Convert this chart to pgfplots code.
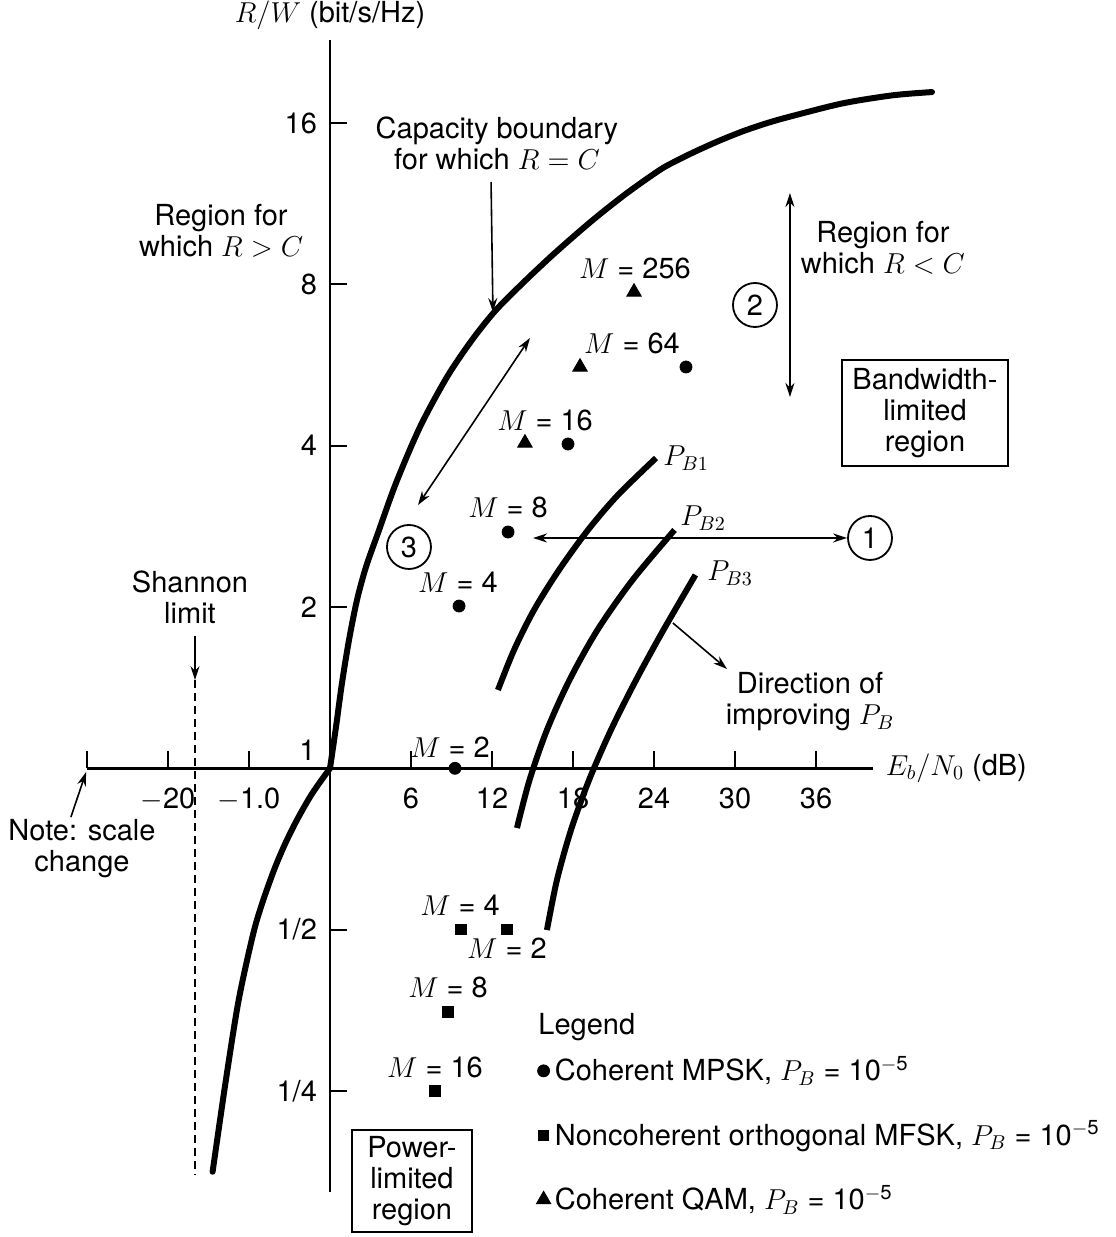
\documentclass[border=0pt]{standalone}
\usepackage{fontspec}
\setmainfont{TeX Gyre Heros}
\usepackage{pgfplots}
\pgfplotsset{compat=1.18}
\usetikzlibrary{arrows.meta}
\begin{document}
\fontsize{14.5}{15.5}\selectfont
\begin{tikzpicture}[>={Stealth[length=7pt,width=4.5pt]}]
\begin{axis}[
  scale only axis, width=392.85pt, height=576pt,
  xmin=-18, xmax=40.2, ymin=0.16198, ymax=22.85,
  ymode=log, log basis y=2,
  axis lines=middle, axis line style={-, line width=1.2pt},
  clip=false,
  tick align=inside, major tick length=8.5pt, tick style={line width=1pt, black},
  xtick={-18,-12,-6,6,12,18,24,30,36},
  xticklabels={,$-$20,$-$1.0,6,12,18,24,30,36},
  ytick={0.25,0.5,2,4,8,16},
  yticklabels={1/4,1/2,2,4,8,16},
  minor tick num=0,
  xticklabel style={yshift=-5pt},
  yticklabel style={xshift=-1.5pt},
  xlabel={$E_b/N_0$ (dB)}, ylabel={$R/W$ (bit/s/Hz)},
  xlabel style={at={(current axis.right of origin)}, anchor=west, xshift=1.5pt},
  ylabel style={at={(current axis.above origin)}, anchor=south},
  legend style={draw=none, fill=none, at={(axis cs:14.81,0.3007)}, anchor=north west,
    row sep=13.75pt, nodes={inner sep=2pt}, font=\fontsize{14.5}{15.5}\selectfont},
  legend cell align=left,
  legend image code/.code={\draw[mark repeat=2,mark phase=2] plot coordinates {(0cm,0cm)(0.12cm,0cm)(0.24cm,0cm)};},
]
% capacity boundary R = C (lower branch, R/W < 1)
\addplot[line width=3pt, line cap=round, smooth, forget plot] coordinates {
(-8.696,0.1767) (-7.711,0.2620) (-6.763,0.3696) (-5.674,0.4928) (-4.941,0.5679)
(-4.089,0.6515) (-3.296,0.7255) (-2.370,0.8077) (-1.296,0.8993) (0,1)};
% capacity boundary R = C (upper branch, R/W > 1)
\addplot[line width=3pt, line cap=round, smooth, forget plot] coordinates {
(0,1) (0.444,1.194) (0.889,1.443) (1.407,1.735) (2.0,2.061) (2.667,2.375) (3.556,2.748)
(4.889,3.406) (6.667,4.334) (8.667,5.371) (10.52,6.298) (12.30,7.164) (14.52,8.150)
(16.74,9.191) (19.48,10.55) (22.0,11.84) (24.44,13.08) (25.63,13.59) (26.89,14.09)
(28.74,14.79) (30.59,15.44) (32.44,16.01) (34.30,16.50) (38.0,17.41) (41.70,18.02) (44.59,18.27)};
% P_B curves
\addplot[line width=3pt, smooth, forget plot] coordinates {
(12.44,1.400) (13.63,1.662) (15.11,1.974) (16.96,2.344) (19.11,2.784) (21.33,3.236) (24.15,3.793)};
\addplot[line width=3pt, smooth, forget plot] coordinates {
(13.85,0.7738) (14.78,0.9510) (16.07,1.1789) (17.74,1.4613) (19.81,1.8116) (22.41,2.2457) (25.52,2.784)};
\addplot[line width=3pt, smooth, forget plot] coordinates {
(16.07,0.4992) (16.81,0.6188) (17.85,0.7672) (19.19,0.9510) (20.81,1.1789) (22.67,1.4613) (24.70,1.8116) (27.07,2.295)};
% modulation points
\addplot[only marks, mark=*, mark size=3pt, black] coordinates {
(9.26,1) (9.56,2.008) (13.19,2.760) (17.63,4.028) (26.37,5.608)};
\addlegendentry{Coherent MPSK, $P_B$ = 10\textsuperscript{$-$5}}
\addplot[only marks, mark=square*, mark size=2.6pt, black] coordinates {
(9.70,0.5) (13.11,0.5) (8.74,0.351) (7.78,0.25)};
\addlegendentry{Noncoherent orthogonal MFSK, $P_B$ = 10\textsuperscript{$-$5}}
\addplot[only marks, mark=triangle*, mark size=4.2pt, black] coordinates {
(14.44,4.046) (18.52,5.608) (22.52,7.740)};
\addlegendentry{Coherent QAM, $P_B$ = 10\textsuperscript{$-$5}}

% bounding box corners
\coordinate (BL) at (axis cs:-24.444,0.1335);
\coordinate (TR) at (axis cs:58.148,27.136);

% y label "1"
\node[anchor=east, inner sep=0] at (axis cs:-1.04,1.082) {1};

% point labels
\node[inner sep=0] at (axis cs:22.59,8.58) {$M$ = 256};
\node[inner sep=0] at (axis cs:22.37,6.217) {$M$ = 64};
\node[inner sep=0] at (axis cs:15.93,4.466) {$M$ = 16};
\node[inner sep=0] at (axis cs:13.19,3.073) {$M$ = 8};
\node[inner sep=0] at (axis cs:9.48,2.227) {$M$ = 4};
\node[inner sep=0] at (axis cs:8.89,1.096) {$M$ = 2};
\node[inner sep=0] at (axis cs:9.63,0.5558) {$M$ = 4};
\node[inner sep=0] at (axis cs:13.11,0.4621) {$M$ = 2};
\node[inner sep=0] at (axis cs:8.74,0.3908) {$M$ = 8};
\node[inner sep=0] at (axis cs:7.78,0.2771) {$M$ = 16};

% P_B labels
\node[anchor=west, inner sep=0] at (axis cs:24.67,3.793) {$P_{B1}$};
\node[anchor=west, inner sep=0] at (axis cs:25.93,2.931) {$P_{B2}$};
\node[anchor=west, inner sep=0] at (axis cs:27.93,2.314) {$P_{B3}$};

% annotations
\node[align=center, inner sep=0] at (axis cs:12.37,14.68) {Capacity boundary\\for which $R = C$};
\node[align=center, inner sep=0] at (axis cs:-8.07,10.06) {Region for\\which $R > C$};
\node[align=center, inner sep=0] at (axis cs:40.96,9.351) {Region for\\which $R < C$};
\node[align=center, inner sep=0] at (axis cs:35.56,1.3296) {Direction of\\improving $P_B$};
\node[align=center, inner sep=0] at (axis cs:-10.37,2.088) {Shannon\\limit};
\node[align=center, inner sep=0] at (axis cs:-18.37,0.707) {Note: scale\\change};
\node[anchor=west, inner sep=0] at (axis cs:15.41,0.329) {Legend};

\node[draw, line width=0.8pt, minimum width=83pt, minimum height=53pt, align=center, inner sep=2pt]
  at (axis cs:44.07,4.602) {Bandwidth-\\limited\\region};
\node[draw, line width=0.8pt, minimum width=60pt, minimum height=51pt, align=center, inner sep=2pt]
  at (axis cs:6.07,0.1698) {Power-\\limited\\region};

% numbered circles
\node[draw, circle, line width=0.9pt, minimum size=22pt, inner sep=0] at (axis cs:40.0,2.690) {1};
\node[draw, circle, line width=0.9pt, minimum size=22pt, inner sep=0] at (axis cs:31.48,7.32) {2};
\node[draw, circle, line width=0.9pt, minimum size=22pt, inner sep=0] at (axis cs:5.85,2.588) {3};

% arrows
\draw[<->, line width=0.8pt] (axis cs:15.04,2.69) -- (axis cs:38.3,2.69);
\draw[<->, line width=0.8pt] (axis cs:34.07,11.84) -- (axis cs:34.07,4.93);
\draw[<->, line width=0.8pt] (axis cs:6.52,3.099) -- (axis cs:14.81,6.352);
\draw[->, line width=0.8pt] (axis cs:11.93,12.42) -- (axis cs:12.07,7.10);
\draw[->, line width=0.8pt] (axis cs:25.4,1.867) -- (axis cs:29.41,1.532);
\draw[->, line width=0.8pt] (axis cs:-10,1.765) -- (axis cs:-10,1.461);
\draw[line width=0.8pt, dash pattern=on 4pt off 2.5pt] (axis cs:-10,1.461) -- (axis cs:-10,0.1743);
\draw[->, line width=0.8pt] (axis cs:-19.19,0.811) -- (axis cs:-18.07,0.984);
\end{axis}
\pgfresetboundingbox
\useasboundingbox (BL) rectangle (TR);
\end{tikzpicture}
\end{document}
